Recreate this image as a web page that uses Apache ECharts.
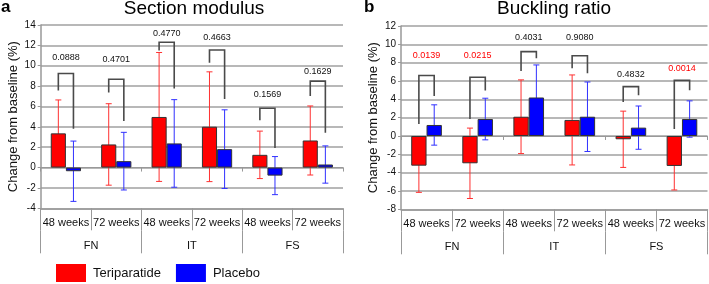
<!DOCTYPE html>
<html>
<head>
<meta charset="utf-8">
<script src="https://cdn.jsdelivr.net/npm/echarts@6/dist/echarts.min.js"></script>
<style>html,body{margin:0;padding:0;background:#fff}#c{width:709px;height:284px}</style>
</head>
<body>
<div id="c"></div>
<script>
// ---------- data ----------
const weekCats = ['48 weeks', '72 weeks', '48 weeks', '72 weeks', '48 weeks', '72 weeks'];
const siteCats = ['FN', 'IT', 'FS'];
const seriesNames = ['Teriparatide', 'Placebo'];

// Panel a: Section modulus
const smTeri = [3.36, 2.27, 4.97, 4.01, 1.25, 2.66];
const smTeriSD = [3.28, 4.0, 6.33, 5.39, 2.33, 3.39];
const smPlac = [-0.36, 0.63, 2.37, 1.81, -0.79, 0.30];
const smPlacSD = [2.96, 2.83, 4.3, 3.86, 1.87, 1.83];
const smP = ['0.0888', '0.4701', '0.4770', '0.4663', '0.1569', '0.1629'];
const smBracketTop = [9.24, 8.68, 12.3, 11.55, 5.82, 8.49];
const smBracketLeft = [7.57, 7.37, 11.5, 10.3, 4.64, 7.04];
const smBracketRight = [3.82, 4.57, 7.76, 6.74, 1.91, 3.42];
const smLabelAt = [10.8, 10.6, 13.2, 12.8, 7.2, 9.4];
const smTicks = { min: -4, max: 14, step: 2 };

// Panel b: Buckling ratio
const brTeri = [-3.24, -2.98, 2.10, 1.75, -0.36, -3.27];
const brTeriSD = [2.91, 3.84, 4.02, 4.91, 3.07, 2.62];
const brPlac = [1.20, 1.85, 4.20, 2.10, 0.91, 1.85];
const brPlacSD = [2.2, 2.27, 3.55, 3.79, 2.36, 1.98];
const brP = ['0.0139', '0.0215', '0.4031', '0.9080', '0.4832', '0.0014'];
const brBracketTop = [6.6, 6.4, 9.2, 8.76, 5.38, 6.07];
const brBracketLeft = [1.3, 1.85, 7.1, 7.38, 3.71, 0.76];
const brBracketRight = [4.36, 4.95, 8.47, 6.84, 4.44, 4.98];
const brLabelAt = [8.83, 8.83, 10.76, 10.76, 6.73, 7.38];
const brTicks = { min: -8, max: 12, step: 2 };

// ---------- styling ----------
const FONT = '"Liberation Sans", Arial, sans-serif';
const RED = '#ff0000', BLUE = '#0000ff';
const GRID_C = '#a0a0a0', AXIS_C = '#999999';

function errData(mean, sd) {
  return mean.map((m, i) => [i, m - sd[i], m + sd[i]]);
}
function bracketData(top, l, r, lab) {
  return top.map((t, i) => [i, t, l[i], r[i], lab[i]]);
}
function errRender(sign, color) {
  return function (params, api) {
    const ci = api.value(0);
    const band = api.size([1, 0])[0];
    const dx = sign * band * 0.15;
    const pLo = api.coord([ci, api.value(1)]);
    const pHi = api.coord([ci, api.value(2)]);
    const x = pLo[0] + dx;
    const cw = 3;
    const st = { stroke: color, lineWidth: 1 };
    return {
      type: 'group', children: [
        { type: 'line', shape: { x1: x, y1: pLo[1], x2: x, y2: pHi[1] }, style: st },
        { type: 'line', shape: { x1: x - cw, y1: pHi[1], x2: x + cw, y2: pHi[1] }, style: st },
        { type: 'line', shape: { x1: x - cw, y1: pLo[1], x2: x + cw, y2: pLo[1] }, style: st }
      ]
    };
  };
}
function bracketRender(pvals) {
  return function (params, api) {
    const ci = api.value(0);
    const band = api.size([1, 0])[0];
    const c = api.coord([ci, api.value(1)]);
    const xl = c[0] - band * 0.15, xr = c[0] + band * 0.15;
    const yTop = c[1];
    const yL = api.coord([ci, api.value(2)])[1];
    const yR = api.coord([ci, api.value(3)])[1];
    const yLab = api.coord([ci, api.value(4)])[1];
    const p = pvals[params.dataIndex];
    const sig = parseFloat(p) < 0.05;
    const st = { stroke: '#4a4a4a', lineWidth: 1.6, fill: 'none' };
    return {
      type: 'group', children: [
        { type: 'polyline', shape: { points: [[xl, yL], [xl, yTop], [xr, yTop], [xr, yR]] }, style: st },
        {
          type: 'text', x: c[0], y: yLab,
          style: {
            text: p, fill: sig ? RED : '#111', font: '9px ' + FONT,
            align: 'center', verticalAlign: 'middle', textAlign: 'center', textVerticalAlign: 'middle'
          }
        }
      ]
    };
  };
}

function panelAxes(gi, ticks) {
  const xAxes = [
    { // data axis, lies on zero
      type: 'category', gridIndex: gi, data: weekCats, position: 'bottom',
      axisLine: { onZero: true, lineStyle: { color: AXIS_C, width: 1 } },
      axisTick: { show: true, length: 4, lineStyle: { color: AXIS_C } },
      axisLabel: { show: false }, splitLine: { show: false }
    },
    { // bottom labels
      type: 'category', gridIndex: gi, data: weekCats, position: 'bottom',
      axisLine: { onZero: false, lineStyle: { color: AXIS_C, width: 1.5 } },
      axisTick: { show: true, interval: 0, length: 22, lineStyle: { color: AXIS_C } },
      axisLabel: { show: true, interval: 0, margin: 9, fontSize: 11, color: '#111', fontFamily: FONT },
      splitLine: { show: false }
    },
    { // group labels
      type: 'category', gridIndex: gi, data: siteCats, position: 'bottom', offset: 22,
      axisLine: { show: false, onZero: false },
      axisTick: { show: true, interval: 0, length: 23, lineStyle: { color: AXIS_C } },
      axisLabel: { show: true, interval: 0, margin: 10, fontSize: 11, color: '#111', fontFamily: FONT },
      splitLine: { show: false }
    }
  ];
  const yAxis = {
    type: 'value', gridIndex: gi, min: ticks.min, max: ticks.max, interval: ticks.step,
    name: 'Change from baseline (%)', nameLocation: 'middle', nameGap: 21,
    nameTextStyle: { fontSize: 13, color: '#111', fontFamily: FONT },
    axisLine: { show: true, onZero: false, lineStyle: { color: AXIS_C, width: 1.5 } },
    axisTick: { show: true, length: 3, lineStyle: { color: AXIS_C } },
    axisLabel: { fontSize: 10, color: '#111', margin: 5, fontFamily: FONT },
    splitLine: { show: true, lineStyle: { color: GRID_C, width: 1.5 } }
  };
  return { xAxes, yAxis };
}

const pa = panelAxes(0, smTicks);
const pb = panelAxes(1, brTicks);

function panelSeries(gi, xBase, teri, teriSD, plac, placSD, pvals, bt, bl, br, bLab) {
  const common = { xAxisIndex: xBase, yAxisIndex: gi };
  return [
    Object.assign({
      name: seriesNames[0], type: 'bar', data: teri, barWidth: '30%', barGap: '0%', z: 3,
      itemStyle: { color: RED, borderColor: '#333', borderWidth: 1 }
    }, common),
    Object.assign({
      name: seriesNames[1], type: 'bar', data: plac, barWidth: '30%', barGap: '0%', z: 3,
      itemStyle: { color: BLUE, borderColor: '#333', borderWidth: 1 }
    }, common),
    Object.assign({
      type: 'custom', data: errData(teri, teriSD), z: 2, silent: true,
      encode: { x: 0, y: [1, 2] }, renderItem: errRender(-1, '#ff3030')
    }, common),
    Object.assign({
      type: 'custom', data: errData(plac, placSD), z: 2, silent: true,
      encode: { x: 0, y: [1, 2] }, renderItem: errRender(1, '#3030ff')
    }, common),
    Object.assign({
      type: 'custom', data: bracketData(bt, bl, br, bLab), z: 4, silent: true,
      encode: { x: 0, y: [1, 2, 3, 4] }, renderItem: bracketRender(pvals)
    }, common)
  ];
}

const option = {
  animation: false,
  backgroundColor: '#fff',
  textStyle: { fontFamily: FONT },
  title: [
    { text: 'a', left: 1, top: -1, padding: 0, textStyle: { fontSize: 17, fontWeight: 'bold', color: '#000', fontFamily: FONT } },
    { text: 'Section modulus', left: 194, textAlign: 'center', top: -1, padding: 0, textStyle: { fontSize: 19, fontWeight: 'normal', color: '#000', fontFamily: FONT } },
    { text: 'b', left: 364, top: -1, padding: 0, textStyle: { fontSize: 17, fontWeight: 'bold', color: '#000', fontFamily: FONT } },
    { text: 'Buckling ratio', left: 554, textAlign: 'center', top: -1, padding: 0, textStyle: { fontSize: 19, fontWeight: 'normal', color: '#000', fontFamily: FONT } }
  ],
  legend: {
    data: seriesNames, left: 56, top: 264, padding: 0, itemWidth: 30, itemHeight: 18, itemGap: 15,
    icon: 'rect', selectedMode: false,
    itemStyle: { borderWidth: 0 },
    textStyle: { fontSize: 13, color: '#111', fontFamily: FONT, padding: [0, 0, 0, 2] }
  },
  grid: [
    { left: 40.7, right: 366, top: 25, bottom: 75.7, containLabel: false },
    { left: 401, right: 1.5, top: 26, bottom: 74.7, containLabel: false }
  ],
  xAxis: pa.xAxes.concat(pb.xAxes),
  yAxis: [pa.yAxis, pb.yAxis],
  series: panelSeries(0, 0, smTeri, smTeriSD, smPlac, smPlacSD, smP, smBracketTop, smBracketLeft, smBracketRight, smLabelAt)
    .concat(panelSeries(1, 3, brTeri, brTeriSD, brPlac, brPlacSD, brP, brBracketTop, brBracketLeft, brBracketRight, brLabelAt))
};

const chart = echarts.init(document.getElementById('c'), null, { renderer: 'canvas' });
chart.setOption(option);
</script>
</body>
</html>
